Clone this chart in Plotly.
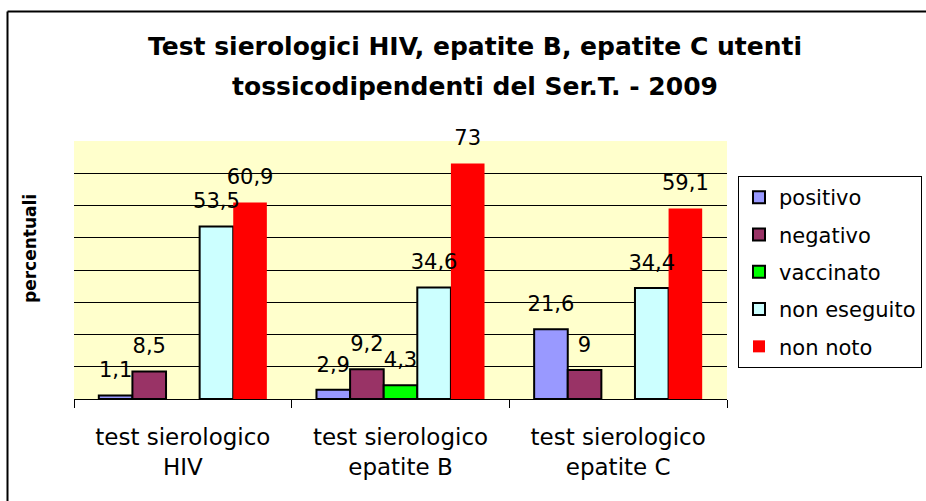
import plotly.graph_objects as go

# ---- data ----
categories = ["test sierologico<br>HIV", "test sierologico<br>epatite B", "test sierologico<br>epatite C"]
positivo = [1.1, 2.9, 21.6]
negativo = [8.5, 9.2, 9]
vaccinato = [None, 4.3, None]
non_eseguito = [53.5, 34.6, 34.4]
non_noto = [60.9, 73, 59.1]

series_names = ["positivo", "negativo", "vaccinato", "non eseguito", "non noto"]
series_values = [positivo, negativo, vaccinato, non_eseguito, non_noto]
series_colors = ["#9999FF", "#993366", "#00FF00", "#CCFFFF", "#FF0000"]
series_lines = [2, 2, 2, 2, 0]

title_lines = ["Test sierologici HIV, epatite B, epatite C utenti",
               "tossicodipendenti del Ser.T. - 2009"]
y_title = "percentuali"

FONT = "DejaVu Sans"
W, H = 926, 501
L, R, T, B = 74, 199, 141, 102
PW, PH = W - L - R, H - T - B
GAP = 0.228


def fmt(v):
    return None if v is None else f"{v:g}".replace(".", ",")


fig = go.Figure()
for name, vals, col, lw in zip(series_names, series_values, series_colors, series_lines):
    fig.add_trace(go.Bar(
        x=categories, y=vals, name=name, offsetgroup=name, legendgroup=name,
        marker=dict(color=col, line=dict(color="black", width=lw)),
        hoverinfo="skip",
    ))
for name, vals in zip(series_names, series_values):
    fig.add_trace(go.Scatter(
        x=categories, y=vals, mode="markers+text", offsetgroup=name,
        text=[fmt(v) for v in vals], textposition="top center",
        textfont=dict(family=FONT, size=21, color="black"),
        marker=dict(size=19, opacity=0), showlegend=False, hoverinfo="skip",
        cliponaxis=False,
    ))

title_text = "<br>".join(f"<span style='font-size:25px'>{t}</span>" for t in title_lines)

fig.update_layout(
    width=W, height=H,
    margin=dict(l=L, r=R, t=T, b=B, pad=0, autoexpand=False),
    paper_bgcolor="white",
    plot_bgcolor="#FFFFCC",
    barmode="group", bargap=GAP, bargroupgap=0,
    scattermode="group", scattergap=GAP,
    font=dict(family=FONT, color="black"),
    title=dict(text=title_text, font=dict(family=FONT, size=31, color="black", weight="bold"),
               x=475 / W, xref="container", xanchor="center",
               y=1 - 55 / H, yref="container", yanchor="top", automargin=False),
    showlegend=True,
    legend=dict(
        font=dict(family=FONT, size=21, color="black"),
        bgcolor="white", bordercolor="black", borderwidth=1,
        x=(738 - L) / PW, xanchor="left", y=(399 - 176) / PH, yanchor="top",
        tracegroupgap=7, traceorder="grouped",
    ),
    xaxis=dict(
        type="category", tickson="boundaries", ticks="outside", ticklen=8,
        tickcolor="black", tickwidth=1, showline=True, linecolor="black", linewidth=1,
        tickfont=dict(family=FONT, size=23, color="black"), showgrid=False,
        ticklabelstandoff=17, automargin=False,
    ),
    yaxis=dict(
        range=[0, 80], tickvals=list(range(10, 80, 10)), showgrid=True,
        gridcolor="black", gridwidth=1, showticklabels=False, zeroline=False,
        showline=False, ticks="", automargin=False,
    ),
    annotations=[dict(
        text=f"<b>{y_title}</b>", textangle=-90, xref="paper", yref="paper",
        x=(30 - L) / PW, y=(399 - 249) / PH, xanchor="center", yanchor="middle",
        showarrow=False, font=dict(family=FONT, size=17, color="black"),
    )],
    shapes=[
        dict(type="line", xref="paper", yref="paper",
             x0=(7.5 - L) / PW, x1=(W + 5 - L) / PW,
             y0=(H - B - 11.5) / PH, y1=(H - B - 11.5) / PH,
             line=dict(color="black", width=2)),
        dict(type="line", xref="paper", yref="paper",
             x0=(7.5 - L) / PW, x1=(7.5 - L) / PW,
             y0=(H - B - 11.5) / PH, y1=(H - B - H - 5) / PH,
             line=dict(color="black", width=2)),
    ],
)

fig.write_html("out.html", post_script="document.body.style.margin='0';",
               config={"displayModeBar": False})
